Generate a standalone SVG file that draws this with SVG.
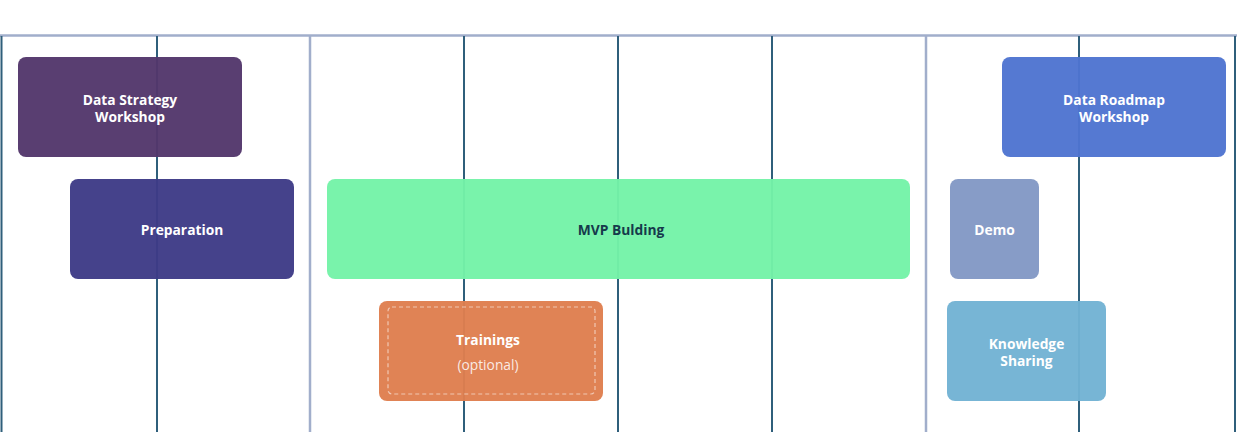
<svg xmlns="http://www.w3.org/2000/svg" width="1237" height="432" viewBox="0 0 1237 432">
<style>
.grid-l{stroke:#a1aecb;stroke-width:2.5;fill:none}
.grid-d{stroke:#2f5f7b;stroke-width:2;fill:none}
.box{fill-opacity:0.96}
.t{font-family:"Open Sans","Liberation Sans",sans-serif;font-weight:700;font-size:13.8px;fill:#ffffff;text-anchor:middle}
.s{font-family:"Open Sans","Liberation Sans",sans-serif;font-weight:400;font-size:13.8px;fill:#ffffff;fill-opacity:0.85;text-anchor:middle}
</style>
<rect width="1237" height="432" fill="#ffffff"/>
<g id="connectors">
<line class="grid-l" x1="0" y1="35.5" x2="1237" y2="35.5"/>
<line class="grid-l" x1="310" y1="35" x2="310" y2="432"/>
<line class="grid-l" x1="926" y1="35" x2="926" y2="432"/>
<line class="grid-d" x1="1.5" y1="36" x2="1.5" y2="432"/>
<line class="grid-d" x1="157" y1="36" x2="157" y2="432"/>
<line class="grid-d" x1="464" y1="36" x2="464" y2="432"/>
<line class="grid-d" x1="618" y1="36" x2="618" y2="432"/>
<line class="grid-d" x1="772" y1="36" x2="772" y2="432"/>
<line class="grid-d" x1="1079" y1="36" x2="1079" y2="432"/>
<line class="grid-d" x1="1235" y1="36" x2="1235" y2="432"/>
</g>
<g id="data-strategy-workshop">
<rect class="box" x="18" y="57" width="224" height="100" rx="8" fill="#52366b"/>
<text class="t" x="130" y="105">Data Strategy</text>
<text class="t" x="130" y="122">Workshop</text>
</g>
<g id="preparation">
<rect class="box" x="70" y="179" width="224" height="100" rx="8" fill="#3d3a86"/>
<text class="t" x="182" y="235">Preparation</text>
</g>
<g id="mvp-building">
<rect class="box" x="327" y="179" width="583" height="100" rx="8" fill="#74f2a8"/>
<text class="t" x="621" y="235" style="fill:#163a4c">MVP Bulding</text>
</g>
<g id="trainings">
<rect class="box" x="379" y="301" width="224" height="100" rx="8" fill="#df7e4e"/>
<rect x="388" y="307" width="207" height="87" rx="4" fill="none" stroke="#ffffff" stroke-opacity="0.55" stroke-width="1.2" stroke-dasharray="4 3"/>
<text class="t" x="488" y="345">Trainings</text>
<text class="s" x="488" y="370">(optional)</text>
</g>
<g id="data-roadmap-workshop">
<rect class="box" x="1002" y="57" width="224" height="100" rx="8" fill="#4e74d0"/>
<text class="t" x="1114" y="105">Data Roadmap</text>
<text class="t" x="1114" y="122">Workshop</text>
</g>
<g id="demo">
<rect class="box" x="950" y="179" width="89" height="100" rx="8" fill="#8298c5"/>
<text class="t" x="994.5" y="235">Demo</text>
</g>
<g id="knowledge-sharing">
<rect class="box" x="947" y="301" width="159" height="100" rx="8" fill="#71b2d3"/>
<text class="t" x="1026.5" y="349">Knowledge</text>
<text class="t" x="1026.5" y="366">Sharing</text>
</g>
</svg>
